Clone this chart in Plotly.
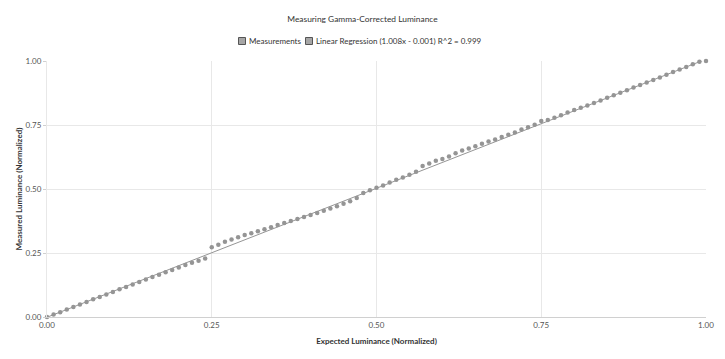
import plotly.graph_objects as go

expected = [i / 100 for i in range(101)]
measured = [
    0.000, 0.010, 0.019, 0.029, 0.039, 0.049, 0.059, 0.069, 0.078, 0.088,
    0.098, 0.108, 0.117, 0.127, 0.137, 0.146, 0.156, 0.165, 0.175, 0.184,
    0.193, 0.203, 0.212, 0.220, 0.229, 0.272, 0.282, 0.294, 0.303, 0.312,
    0.320, 0.327, 0.335, 0.343, 0.351, 0.359, 0.367, 0.375, 0.383, 0.391,
    0.398, 0.406, 0.415, 0.424, 0.433, 0.442, 0.452, 0.465, 0.484, 0.495,
    0.505, 0.514, 0.525, 0.536, 0.545, 0.556, 0.567, 0.590, 0.600, 0.610,
    0.617, 0.627, 0.640, 0.650, 0.658, 0.667, 0.677, 0.686, 0.693, 0.703,
    0.712, 0.721, 0.732, 0.741, 0.751, 0.766, 0.770, 0.778, 0.788, 0.799,
    0.809, 0.817, 0.826, 0.836, 0.846, 0.856, 0.866, 0.876, 0.886, 0.896,
    0.906, 0.916, 0.926, 0.936, 0.946, 0.957, 0.967, 0.977, 0.987, 0.997,
    1.000,
]
reg_slope = 1.008
reg_intercept = -0.001
reg_x = [0.0, 1.0]
reg_y = [reg_slope * v + reg_intercept for v in reg_x]

tick_vals = [0, 0.25, 0.5, 0.75, 1.0]
tick_text = ["0.00", "0.25", "0.50", "0.75", "1.00"]
legend_names = ["Measurements", "Linear Regression (1.008x - 0.001) R^2 = 0.999"]

FONT = "Lato"
GRAY = "#959595"

W, H = 725, 359
ML, MR, MT, MB = 47, 19, 61, 42
PW, PH = W - ML - MR, H - MT - MB


def px_x(p):
    return (p - ML) / PW


def px_y(p):
    return (H - MB - p) / PH


fig = go.Figure()
fig.add_trace(go.Scatter(
    x=reg_x, y=reg_y, mode="lines", name=legend_names[1],
    line=dict(color=GRAY, width=1), showlegend=False, hoverinfo="skip",
))
fig.add_trace(go.Scatter(
    x=expected, y=measured, mode="markers", name=legend_names[0],
    marker=dict(color=GRAY, size=4.5), showlegend=False, cliponaxis=False,
))

# custom compact legend (swatch + label), placed like the original
legend_items = [(242, 248, legend_names[0]), (309, 315, legend_names[1])]
legend_y = 41
for sw_cx, tx, name in legend_items:
    fig.add_shape(type="rect", xref="paper", yref="paper",
                  x0=px_x(sw_cx - 3.5), x1=px_x(sw_cx + 3.5),
                  y0=px_y(legend_y + 3.5), y1=px_y(legend_y - 3.5),
                  fillcolor="#a6a6a6", line=dict(color="#555555", width=1),
                  layer="above")
    fig.add_annotation(xref="paper", yref="paper", x=px_x(tx - 1), y=px_y(legend_y),
                       xanchor="left", yanchor="middle", showarrow=False,
                       text=name, font=dict(family=FONT, size=8, color="#333333"))

fig.update_layout(
    width=W, height=H,
    margin=dict(l=ML, r=MR, t=MT, b=MB, autoexpand=False),
    paper_bgcolor="white", plot_bgcolor="white",
    font=dict(family=FONT, size=8, color="#555555"),
    title=dict(text="Measuring Gamma-Corrected Luminance", x=0.5, xanchor="center",
               xref="container", y=1 - 19 / H, yanchor="middle",
               font=dict(family=FONT, size=8.4, color="#333333")),
    showlegend=False,
)

fig.update_xaxes(
    range=[0, 1], tickvals=tick_vals, ticktext=tick_text, automargin=False,
    showgrid=True, gridcolor="#e8e8e8", gridwidth=1, zeroline=False,
    showline=True, linecolor="#d0d0d0", linewidth=1,
    tickfont=dict(family=FONT, size=8, color="#555555"),
    title=dict(text="<b>Expected Luminance (Normalized)</b>", standoff=9,
               font=dict(family=FONT, size=8, color="#333333")),
)
fig.update_yaxes(
    range=[0, 1], tickvals=tick_vals, ticktext=tick_text, automargin=False,
    showgrid=True, gridcolor="#e8e8e8", gridwidth=1, zeroline=False,
    showline=True, linecolor="#e8e8e8", linewidth=1,
    ticks="outside", ticklen=3, tickcolor="#d0d0d0",
    tickfont=dict(family=FONT, size=8, color="#555555"),
    title=dict(text="<b>Measured Luminance (Normalized)</b>", standoff=1,
               font=dict(family=FONT, size=8, color="#333333")),
)

fig.write_html("out.html", config={"displayModeBar": False},
               post_script="document.body.style.margin='0';")
